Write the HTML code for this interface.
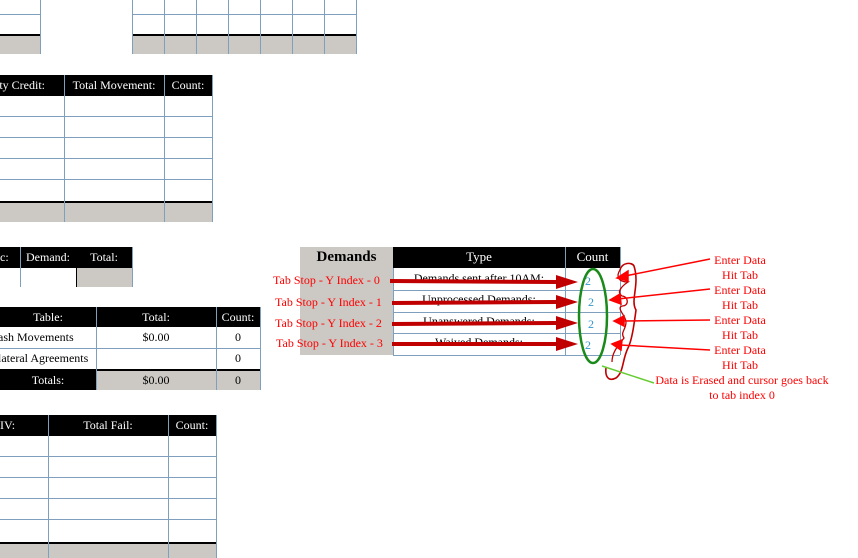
<!DOCTYPE html>
<html><head><style>
body{margin:0;width:858px;height:558px;background:#fff;position:relative;overflow:hidden;font-family:"Liberation Serif",serif;font-size:12px}
.a{position:absolute;box-sizing:border-box}
.blk{background:#000;color:#fff;text-align:center;line-height:20px}
.g{background:#ccc8c3}
.hl{height:1px;background:#7f9fbf}
.vl{width:1px;background:#7f9fbf}
.bl{height:2px;background:#000}
.t{position:absolute;white-space:nowrap}
.r{color:#f00;text-align:center}
</style></head><body>
<div class="a hl" style="left:0;top:14px;width:40px"></div>
<div class="a g" style="left:0;top:35px;width:40px;height:19px"></div>
<div class="a bl" style="left:0;top:34px;width:40px"></div>
<div class="a vl" style="left:40px;top:0;height:54px"></div>
<div class="a hl" style="left:132px;top:14px;width:224px"></div>
<div class="a g" style="left:132px;top:35px;width:224px;height:19px"></div>
<div class="a bl" style="left:132px;top:34px;width:224px"></div>
<div class="a vl" style="left:132px;top:0;height:54px"></div>
<div class="a vl" style="left:164px;top:0;height:54px"></div>
<div class="a vl" style="left:196px;top:0;height:54px"></div>
<div class="a vl" style="left:228px;top:0;height:54px"></div>
<div class="a vl" style="left:260px;top:0;height:54px"></div>
<div class="a vl" style="left:292px;top:0;height:54px"></div>
<div class="a vl" style="left:324px;top:0;height:54px"></div>
<div class="a vl" style="left:356px;top:0;height:54px"></div>
<div class="a blk" style="left:0;top:75px;width:212px;height:21px"></div>
<div class="t" style="left:-8px;top:75px;color:#fff;line-height:20px">rity Credit:</div>
<div class="t" style="left:64px;top:75px;width:100px;color:#fff;line-height:20px;text-align:center">Total Movement:</div>
<div class="t" style="left:164px;top:75px;width:48px;color:#fff;line-height:20px;text-align:center">Count:</div>
<div class="a hl" style="left:0;top:116px;width:212px"></div>
<div class="a hl" style="left:0;top:137px;width:212px"></div>
<div class="a hl" style="left:0;top:158px;width:212px"></div>
<div class="a hl" style="left:0;top:179px;width:212px"></div>
<div class="a g" style="left:0;top:202px;width:212px;height:20px"></div>
<div class="a bl" style="left:0;top:201px;width:212px"></div>
<div class="a vl" style="left:64px;top:75px;height:147px"></div>
<div class="a vl" style="left:164px;top:75px;height:147px"></div>
<div class="a vl" style="left:212px;top:75px;height:147px"></div>
<div class="a blk" style="left:0;top:247px;width:132px;height:21px"></div>
<div class="t" style="left:0;top:247px;color:#fff;line-height:20px">c:</div>
<div class="t" style="left:20px;top:247px;width:56px;color:#fff;line-height:20px;text-align:center">Demand:</div>
<div class="t" style="left:76px;top:247px;width:56px;color:#fff;line-height:20px;text-align:center">Total:</div>
<div class="a g" style="left:77px;top:268px;width:55px;height:19px"></div>
<div class="a vl" style="left:20px;top:247px;height:40px"></div>
<div class="a vl" style="left:132px;top:247px;height:40px"></div>
<div class="a" style="left:76px;top:267px;width:1px;height:20px;background:#000"></div>
<div class="a blk" style="left:0;top:307px;width:260px;height:20px"></div>
<div class="t" style="left:0;top:307px;width:96px;color:#fff;line-height:20px;text-align:center">Table:</div>
<div class="t" style="left:96px;top:307px;width:120px;color:#fff;line-height:20px;text-align:center">Total:</div>
<div class="t" style="left:216px;top:307px;width:44px;color:#fff;line-height:20px;text-align:center">Count:</div>
<div class="t" style="left:-2px;top:327px;line-height:21px">ash Movements</div>
<div class="t" style="left:96px;top:327px;width:120px;line-height:21px;text-align:center">$0.00</div>
<div class="t" style="left:216px;top:327px;width:44px;line-height:21px;text-align:center">0</div>
<div class="a hl" style="left:0;top:348px;width:260px"></div>
<div class="t" style="left:-2px;top:348px;line-height:21px">lateral Agreements</div>
<div class="t" style="left:216px;top:348px;width:44px;line-height:21px;text-align:center">0</div>
<div class="a bl" style="left:0;top:369px;width:260px"></div>
<div class="a blk" style="left:0;top:371px;width:96px;height:19px;line-height:19px">Totals:</div>
<div class="a g" style="left:96px;top:371px;width:164px;height:19px"></div>
<div class="t" style="left:96px;top:371px;width:120px;line-height:19px;text-align:center">$0.00</div>
<div class="t" style="left:216px;top:371px;width:44px;line-height:19px;text-align:center">0</div>
<div class="a vl" style="left:96px;top:307px;height:83px"></div>
<div class="a vl" style="left:216px;top:307px;height:83px"></div>
<div class="a vl" style="left:260px;top:307px;height:83px"></div>
<div class="a blk" style="left:0;top:415px;width:216px;height:21px"></div>
<div class="t" style="left:0;top:415px;color:#fff;line-height:20px">IV:</div>
<div class="t" style="left:48px;top:415px;width:120px;color:#fff;line-height:20px;text-align:center">Total Fail:</div>
<div class="t" style="left:168px;top:415px;width:48px;color:#fff;line-height:20px;text-align:center">Count:</div>
<div class="a hl" style="left:0;top:456px;width:216px"></div>
<div class="a hl" style="left:0;top:477px;width:216px"></div>
<div class="a hl" style="left:0;top:498px;width:216px"></div>
<div class="a hl" style="left:0;top:519px;width:216px"></div>
<div class="a bl" style="left:0;top:542px;width:216px"></div>
<div class="a g" style="left:0;top:544px;width:216px;height:14px"></div>
<div class="a vl" style="left:48px;top:415px;height:143px"></div>
<div class="a vl" style="left:168px;top:415px;height:143px"></div>
<div class="a vl" style="left:216px;top:415px;height:143px"></div>
<div class="a g" style="left:300px;top:247px;width:93px;height:108px"></div>
<div class="t" style="left:300px;top:249px;width:93px;text-align:center;font-weight:bold;font-size:15px">Demands</div>
<div class="a blk" style="left:393px;top:247px;width:227px;height:21px"></div>
<div class="t" style="left:393px;top:249px;width:172px;color:#fff;text-align:center;font-size:13px">Type</div>
<div class="t" style="left:565px;top:249px;width:55px;color:#fff;text-align:center;font-size:13px">Count</div>
<div class="a vl" style="left:565px;top:247px;height:108px"></div>
<div class="a vl" style="left:620px;top:247px;height:108px"></div>
<div class="a vl" style="left:393px;top:268px;height:87px"></div>
<div class="a hl" style="left:393px;top:290px;width:227px"></div>
<div class="a hl" style="left:393px;top:312px;width:227px"></div>
<div class="a hl" style="left:393px;top:333px;width:227px"></div>
<div class="a hl" style="left:393px;top:355px;width:227px"></div>
<div class="t" style="left:393px;top:271px;width:172px;text-align:center">Demands sent after 10AM:</div>
<div class="t" style="left:393px;top:292px;width:172px;text-align:center">Unprocessed Demands:</div>
<div class="t" style="left:393px;top:314px;width:172px;text-align:center">Unanswered Demands:</div>
<div class="t" style="left:393px;top:335px;width:172px;text-align:center">Waived Demands:</div>
<div class="t" style="left:585px;top:274px;color:#39c">2</div>
<div class="t" style="left:588px;top:295px;color:#39c">2</div>
<div class="t" style="left:588px;top:317px;color:#39c">2</div>
<div class="t" style="left:585px;top:338px;color:#39c">2</div>
<div class="t" style="left:273px;top:273px;color:#f00">Tab Stop - Y Index - 0</div>
<div class="t" style="left:275px;top:295px;color:#f00">Tab Stop - Y Index - 1</div>
<div class="t" style="left:275px;top:316px;color:#f00">Tab Stop - Y Index - 2</div>
<div class="t" style="left:276px;top:336px;color:#f00">Tab Stop - Y Index - 3</div>
<svg class="a" style="left:0;top:0" width="858" height="558">
<g stroke="#c00000" stroke-width="4" fill="#c00000">
<line x1="390" y1="281" x2="556" y2="282"/><polygon points="556,275 578,282 556,289" stroke="none"/>
<line x1="392" y1="303" x2="556" y2="302"/><polygon points="556,295 578,302 556,309" stroke="none"/>
<line x1="392" y1="324" x2="556" y2="323"/><polygon points="556,316 578,323 556,330" stroke="none"/>
<line x1="392" y1="344" x2="556" y2="344"/><polygon points="556,337 578,344 556,351" stroke="none"/>
</g>
<ellipse cx="593" cy="316" rx="14" ry="47" fill="none" stroke="#1a8a1a" stroke-width="2.5"/>
<path d="M620,270 C622,262 632,262 634,266 C640,285 630,300 636,310 C634,325 632,340 628,348 C622,360 624,372 616,378 C608,382 605,376 606,368" fill="none" stroke="#c00000" stroke-width="1.6"/>
<path d="M620,270 C616,276 618,282 628,282 C622,286 616,292 622,296 C628,296 630,306 622,306 C616,308 626,316 626,322 C626,330 620,332 624,338 C618,346 612,352 612,362" fill="none" stroke="#c00000" stroke-width="1.3"/>
<g stroke="#f00" stroke-width="1.5" fill="#f00">
<line x1="710" y1="259" x2="625" y2="276"/><polygon points="617,278 628,271 628,281"/>
<line x1="710" y1="289" x2="618" y2="299"/><polygon points="610,300 620,294 621,304"/>
<line x1="710" y1="320" x2="622" y2="321"/><polygon points="614,321 624,316 624,326"/>
<line x1="710" y1="350" x2="620" y2="345"/><polygon points="612,344 622,340 621,350"/>
</g>
<line x1="654" y1="383" x2="602" y2="366" stroke="#66cc33" stroke-width="1.5"/>
</svg>
<div class="t r" style="left:700px;top:253px;width:80px">Enter Data</div>
<div class="t r" style="left:700px;top:268px;width:80px">Hit Tab</div>
<div class="t r" style="left:700px;top:283px;width:80px">Enter Data</div>
<div class="t r" style="left:700px;top:298px;width:80px">Hit Tab</div>
<div class="t r" style="left:700px;top:313px;width:80px">Enter Data</div>
<div class="t r" style="left:700px;top:328px;width:80px">Hit Tab</div>
<div class="t r" style="left:700px;top:343px;width:80px">Enter Data</div>
<div class="t r" style="left:700px;top:358px;width:80px">Hit Tab</div>
<div class="t r" style="left:642px;top:373px;width:200px">Data is Erased and cursor goes back</div>
<div class="t r" style="left:642px;top:388px;width:200px">to tab index 0</div>
</body></html>
